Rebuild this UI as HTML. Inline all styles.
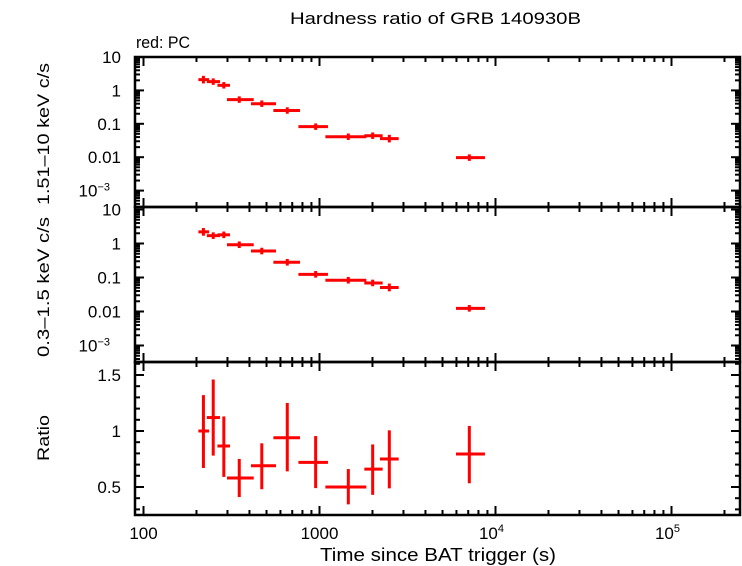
<!DOCTYPE html>
<html><head><meta charset="utf-8"><style>
body{margin:0;background:#fff;}
svg{display:block;font-family:"Liberation Sans",sans-serif;}
</style></head><body>
<svg id="c" width="742" height="566"></svg>
<script>
const tMid=[219,249,286,350,470,656,951,1458,2005,2493,7100];
const tLo=[205,229,263,298,408,547,759,1080,1798,2206,5965];
const tHi=[236,272,310,423,566,775,1117,1845,2285,2818,8710];
const hardVal=[2.10,1.83,1.42,0.53,0.40,0.25,0.082,0.041,0.044,0.036,0.0097];
const softVal=[2.2,1.70,1.80,0.92,0.60,0.28,0.124,0.083,0.069,0.051,0.0124];
const ratioVal=[1.00,1.12,0.866,0.58,0.69,0.94,0.72,0.50,0.66,0.75,0.795];
const ratioHi=[1.32,1.46,1.13,0.75,0.89,1.25,0.955,0.66,0.88,1.006,1.045];
const ratioLo=[0.67,0.78,0.59,0.41,0.48,0.64,0.49,0.345,0.43,0.488,0.533];
const relErr=[0.3,0.25,0.25,0.25,0.25,0.25,0.25,0.25,0.25,0.3,0.25];
const logTickLabels=["10","1","0.1","0.01","10"];
const ratioTicks=[0.5,1,1.5];

const svg=document.getElementById('c');
const NS='http://www.w3.org/2000/svg';
function el(tag,attrs,parent){const e=document.createElementNS(NS,tag);for(const k in attrs)e.setAttribute(k,attrs[k]);(parent||svg).appendChild(e);return e;}
const X0=135,X1=740;
const xs=t=>143.5+(Math.log10(t)-2)*176;
const P=[{top:57,bot:207,y10:57,dec:33.4},{top:207,bot:362,y10:209.5,dec:34}];
const logY=(p,v)=>p.y10+(1-Math.log10(v))*p.dec;
const ry=v=>431-(v-1)*112;

function line(x1,y1,x2,y2,col,w,name,g){const l=el('line',{x1,y1,x2,y2,stroke:col,'stroke-width':w},g);return l;}
function txt(x,y,s,anchor,size,name,len){const t=el('text',{x,y,'text-anchor':anchor,'font-size':size});if(len){t.setAttribute('textLength',len);t.setAttribute('lengthAdjust','spacingAndGlyphs');}t.textContent=s;return t;}

const panels=[[57,207],[207,362],[362,515]];
panels.forEach(([top,bot])=>{
  for(let d=2;d<=5;d++)for(let m=1;m<10;m++){
    const v=m*Math.pow(10,d);const x=xs(v);if(x<X0||x>X1)continue;
    const L=m===1?9:5;
    line(x,bot,x,bot-L,'#000',2,'x-tick');
    line(x,top,x,top+L,'#000',2,'x-tick');
  }
});
P.forEach((p)=>{
  for(let e=-4;e<=1;e++)for(let m=1;m<10;m++){
    const v=m*Math.pow(10,e);const y=logY(p,v);if(y<p.top-0.5||y>p.bot)continue;
    const L=m===1?9:5;
    line(X0,y,X0+L,y,'#000',2,'y-tick');line(X1,y,X1-L,y,'#000',2,'y-tick');
  }
  logTickLabels.forEach((s,i)=>{
    const y=p.y10+i*p.dec+6;
    const t=txt(121,y,s,'end',17,'y-tick-label');
    if(i===4){t.setAttribute('x',110);const sp=el('tspan',{dy:-6,'font-size':11},t);sp.textContent='−3';}
  });
});
for(let k=3;k<=16;k++){const v=k/10;const y=ry(v);if(y<362||y>515)continue;const L=(k%5===0)?9:5;
  line(X0,y,X0+L,y,'#000',2,'y-tick');line(X1,y,X1-L,y,'#000',2,'y-tick');}
ratioTicks.forEach(v=>txt(121,ry(v)+6,String(v),'end',17,'ratio-tick-label'));
[[57,207],[207,362],[362,515]].forEach(([t,b])=>{const r=el('rect',{x:X0,y:t,width:X1-X0,height:b-t,fill:'none',stroke:'#000','stroke-width':2.5});});
const red='#ff0000';
tMid.forEach((t,i)=>{
  [[P[0],hardVal],[P[1],softVal]].forEach(([p,vals],k)=>{
    const g=el('g',{});
    const v=vals[i],y=logY(p,v);
    line(xs(tLo[i]),y,xs(tHi[i]),y,red,3,'x-error',g);
    line(xs(t),logY(p,v*(1+relErr[i])),xs(t),logY(p,v/(1+relErr[i])),red,3,'y-error',g);
  });
  const g=el('g',{});
  line(xs(tLo[i]),ry(ratioVal[i]),xs(tHi[i]),ry(ratioVal[i]),red,3,'x-error',g);
  line(xs(t),ry(ratioHi[i]),xs(t),ry(ratioLo[i]),red,3,'y-error',g);
});
txt(xs(100),539,'100','middle',17,'x-tick-label');
txt(xs(1000),539,'1000','middle',17,'x-tick-label');
[[1e4,'4'],[1e5,'5']].forEach(([v,e])=>{const t=txt(xs(v)-4,539,'10','middle',17,'x-tick-label');const sp=el('tspan',{dy:-7,'font-size':11},t);sp.textContent=e;});
txt(320,561,'Time since BAT trigger (s)','start',18,'x-axis-title',236);
txt(290,24,'Hardness ratio of GRB 140930B','start',17,'chart-title',291);
txt(136,48,'red: PC','start',17,'legend-label',54);
function vt(x,y,s,name,len){const t=txt(x,y,s,'middle',17,name);if(len){t.setAttribute('textLength',len);t.setAttribute('lengthAdjust','spacingAndGlyphs');}t.setAttribute('transform',`rotate(-90 ${x} ${y})`);}
vt(49,134,'1.51–10 keV c/s','y-axis-title-hard',142);
vt(49,287,'0.3–1.5 keV c/s','y-axis-title-soft',140);
vt(49,438,'Ratio','y-axis-title-ratio',46);
</script>
</body></html>
